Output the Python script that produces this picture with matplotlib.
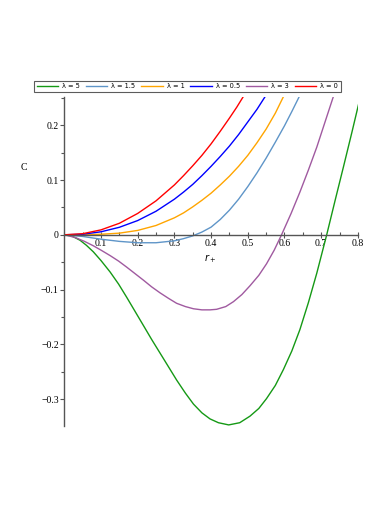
import matplotlib
matplotlib.use("Agg")
import matplotlib.pyplot as plt
from matplotlib.ticker import MultipleLocator

# wartosci
x_l5 = [0, 0.02, 0.043, 0.06, 0.079, 0.1, 0.125, 0.148, 0.170, 0.193, 0.216, 0.238, 0.261,
        0.284, 0.306, 0.33, 0.352, 0.375, 0.397, 0.42, 0.448, 0.478, 0.506, 0.53, 0.551,
        0.575, 0.597, 0.62, 0.642, 0.665, 0.688, 0.715, 0.738, 0.761, 0.784, 0.806]
y_l5 = [0, -0.002, -0.010, -0.019, -0.031, -0.047, -0.068, -0.090, -0.114, -0.140, -0.166,
        -0.191, -0.216, -0.241, -0.265, -0.289, -0.309, -0.325, -0.336, -0.343, -0.347,
        -0.343, -0.331, -0.317, -0.299, -0.275, -0.246, -0.212, -0.173, -0.124, -0.070,
        0.0, 0.063, 0.125, 0.188, 0.250]

x_l3 = [0, 0.03, 0.055, 0.079, 0.1, 0.125, 0.148, 0.170, 0.193, 0.216, 0.238, 0.261, 0.284,
        0.306, 0.33, 0.352, 0.375, 0.397, 0.415, 0.44, 0.461, 0.484, 0.506, 0.53, 0.551,
        0.572, 0.592, 0.618, 0.642, 0.665, 0.688, 0.71, 0.733]
y_l3 = [0, -0.005, -0.012, -0.020, -0.028, -0.038, -0.048, -0.059, -0.071, -0.083, -0.095,
        -0.106, -0.116, -0.125, -0.131, -0.135, -0.137, -0.137, -0.136, -0.131, -0.122,
        -0.109, -0.093, -0.074, -0.053, -0.028, 0.0, 0.039, 0.078, 0.118, 0.160, 0.205, 0.252]

x_l15 = [0, 0.05, 0.1, 0.15, 0.2, 0.25, 0.3, 0.325, 0.35, 0.375, 0.4, 0.425, 0.45, 0.475,
         0.5, 0.525, 0.55, 0.575, 0.6, 0.62, 0.64]
y_l15 = [0, -0.003, -0.008, -0.012, -0.0145, -0.0145, -0.011, -0.007, -0.002, 0.005, 0.014,
         0.028, 0.045, 0.065, 0.088, 0.113, 0.140, 0.169, 0.199, 0.225, 0.252]

x_l1 = [0, 0.05, 0.1, 0.15, 0.2, 0.25, 0.3, 0.325, 0.35, 0.375, 0.4, 0.425, 0.45, 0.475,
        0.5, 0.525, 0.55, 0.575, 0.597]
y_l1 = [0, 0.0, 0.001, 0.003, 0.008, 0.017, 0.031, 0.040, 0.051, 0.063, 0.076, 0.091, 0.107,
        0.125, 0.145, 0.168, 0.193, 0.222, 0.252]

x_l05 = [0, 0.05, 0.1, 0.15, 0.2, 0.25, 0.3, 0.325, 0.35, 0.375, 0.4, 0.425, 0.45, 0.475,
         0.5, 0.525, 0.547]
y_l05 = [0, 0.001, 0.0055, 0.0137, 0.026, 0.043, 0.065, 0.078, 0.092, 0.108, 0.125, 0.143,
         0.162, 0.183, 0.206, 0.229, 0.252]

x_l0 = [0, 0.05, 0.1, 0.15, 0.2, 0.25, 0.3, 0.325, 0.35, 0.375, 0.4, 0.425, 0.45, 0.47, 0.4875]
y_l0 = [0, 0.002, 0.009, 0.021, 0.039, 0.062, 0.091, 0.108, 0.126, 0.145, 0.166, 0.189,
        0.213, 0.233, 0.252]

curves = [
    ("λ = 5", x_l5, y_l5, "#159915"),
    ("λ = 1.5", x_l15, y_l15, "#5f95c8"),
    ("λ = 1", x_l1, y_l1, "#ffa500"),
    ("λ = 0.5", x_l05, y_l05, "#0000ff"),
    ("λ = 3", x_l3, y_l3, "#a05aa0"),
    ("λ = 0", x_l0, y_l0, "#ff0000"),
]

x_ticks = [0.1, 0.2, 0.3, 0.4, 0.5, 0.6, 0.7, 0.8]
y_ticks = [-0.3, -0.2, -0.1, 0, 0.1, 0.2]

serif = ["Liberation Serif", "DejaVu Serif"]

fig = plt.figure(figsize=(3.92, 5.08), dpi=100)
ax = fig.add_axes([0.164, 0.1614, 0.749, 0.6471])

for label, xs, ys, col in curves:
    ax.plot(xs, ys, color=col, lw=1.0, label=label)

ax.set_xlim(0, 0.8)
ax.set_ylim(-0.349, 0.251)

# osie przecinajace sie w zerze (styl Maple)
ax.spines["left"].set_position(("data", 0))
ax.spines["bottom"].set_position(("data", 0))
ax.spines["top"].set_visible(False)
ax.spines["right"].set_visible(False)
for s in ("left", "bottom"):
    ax.spines[s].set_color("#555555")
    ax.spines[s].set_linewidth(1.0)

ax.set_xticks(x_ticks)
ax.set_xticklabels([f"{v:g}" for v in x_ticks])
ax.set_yticks(y_ticks)
ax.set_yticklabels([f"{v:g}".replace("-", "\u2212") for v in y_ticks])
ax.xaxis.set_minor_locator(MultipleLocator(0.05))
ax.yaxis.set_minor_locator(MultipleLocator(0.05))
ax.tick_params(axis="x", which="major", direction="inout", length=4, width=0.8,
               color="#555555", labelsize=7, pad=1)
ax.tick_params(axis="x", which="minor", direction="in", length=2, width=0.8, color="#555555")
ax.tick_params(axis="y", which="major", direction="out", length=3, width=0.8,
               color="#555555", labelsize=7, pad=1)
ax.tick_params(axis="y", which="minor", direction="out", length=2, width=0.8, color="#555555")
for t in ax.get_xticklabels() + ax.get_yticklabels():
    t.set_family(serif)

ax.text(0.397, -0.043, r"$r_+$", fontsize=7, ha="center", va="center")
fig.text(24 / 392, 1 - 167 / 508, "C", fontsize=7, family=serif, ha="center", va="center")

leg = fig.legend(loc="center", bbox_to_anchor=(187.5 / 392, 1 - 86.5 / 508), ncol=6,
                 fontsize=4.8, frameon=True, fancybox=False, handlelength=3.2,
                 handletextpad=0.6, columnspacing=0.9, borderpad=0.35)
leg.get_frame().set_edgecolor("#333333")
leg.get_frame().set_linewidth(0.8)

fig.savefig("out.png", dpi=100)
